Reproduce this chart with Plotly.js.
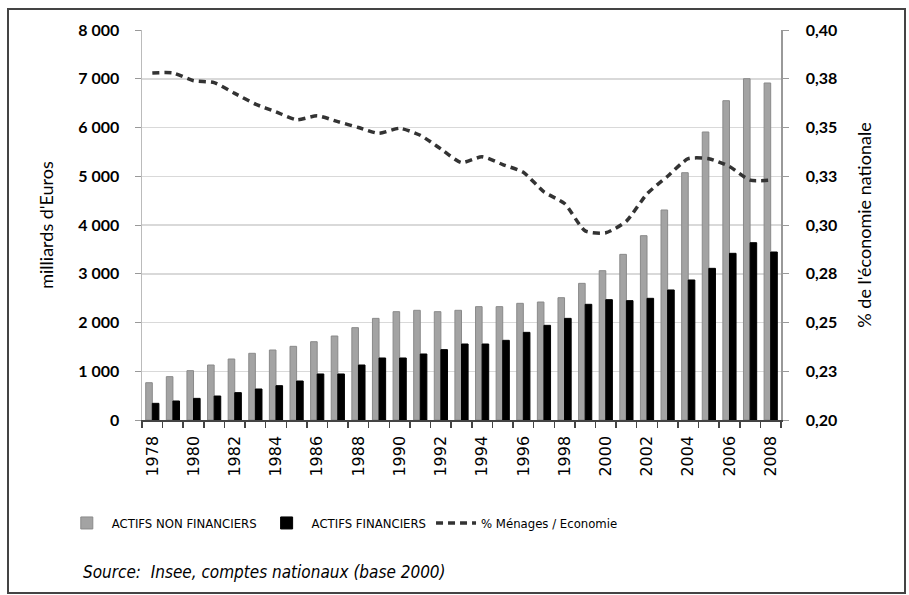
<!DOCTYPE html>
<html>
<head>
<meta charset="utf-8">
<script src="https://cdn.plot.ly/plotly-3.0.1.min.js"></script>
<style>
html,body{margin:0;padding:0;background:#fff;}
#wrap{position:relative;width:909px;height:595px;}
#chart{position:absolute;left:0;top:0;width:909px;height:595px;}
#frame{position:absolute;left:7px;top:8px;width:895px;height:582px;border:2px solid #444;pointer-events:none;}
</style>
</head>
<body>
<div id="wrap"><div id="chart"></div><div id="frame"></div></div>
<script>
const years = [1978,1979,1980,1981,1982,1983,1984,1985,1986,1987,1988,1989,1990,1991,1992,1993,1994,1995,1996,1997,1998,1999,2000,2001,2002,2003,2004,2005,2006,2007,2008];
const actifsNonFinanciers = [765,889,1012,1128,1251,1368,1436,1511,1606,1723,1894,2085,2222,2250,2222,2250,2325,2325,2393,2420,2509,2803,3063,3398,3781,4308,5073,5908,6550,7001,6913];
const actifsFinanciers = [342,390,444,492,561,636,704,800,944,944,1128,1272,1272,1354,1443,1559,1559,1634,1798,1942,2085,2373,2468,2448,2496,2667,2872,3111,3419,3637,3446];
const partMenages = [0.378,0.378,0.374,0.373,0.3675,0.362,0.358,0.354,0.356,0.353,0.350,0.347,0.3496,0.346,0.339,0.332,0.335,0.331,0.327,0.317,0.311,0.297,0.296,0.302,0.316,0.325,0.334,0.334,0.330,0.323,0.323];
const leftTicks = [0,1000,2000,3000,4000,5000,6000,7000,8000];
const rightTicks = [0.2,0.225,0.25,0.275,0.3,0.325,0.35,0.375,0.4];
const rightTickText = ['0,20','0,23','0,25','0,28','0,30','0,33','0,35','0,38','0,40'];
const labelYears = years.filter(y => y % 2 === 0);
const boundaries = [years[0]-0.5].concat(years.map(y => y+0.5));

const narrow = '"Liberation Sans Narrow", "DejaVu Sans Condensed", "Liberation Sans", sans-serif';
const bold = 'Lato, "Open Sans", sans-serif';

const traces = [
  {type:'bar', name:'ACTIFS NON FINANCIERS', x:years, y:actifsNonFinanciers,
   marker:{color:'#a3a3a3', line:{color:'#8a8a8a', width:1}}},
  {type:'bar', name:'ACTIFS FINANCIERS', x:years, y:actifsFinanciers,
   marker:{color:'#000000', line:{color:'#000', width:1}}},
  {type:'scatter', mode:'lines', name:'% Ménages / Economie', x:years, y:partMenages, yaxis:'y2',
   line:{color:'#333333', width:3.5, dash:'7px,5px', shape:'spline', smoothing:0.6}}
];

const layout = {
  width:909, height:595,
  margin:{l:142, r:128, t:30, b:175},
  paper_bgcolor:'#ffffff', plot_bgcolor:'#ffffff',
  barmode:'group', bargap:0.36, bargroupgap:0,
  separators:', ',
  showlegend:true,
  legend:{orientation:'h', xref:'container', yref:'container', x:0.068, xanchor:'left', y:0.121, yanchor:'middle',
    font:{family:narrow, size:13, color:'#000'}, itemwidth:40, traceorder:'normal', tracegroupgap:0},
  xaxis:{type:'linear', range:[1977.5,2008.5], tickmode:'array', tickvals:labelYears, ticktext:labelYears.map(String),
    ticks:'', tickangle:-90, showgrid:false, zeroline:false, automargin:false,
    showline:true, linecolor:'#444', linewidth:1.5,
    tickfont:{family:'"DejaVu Sans", sans-serif', size:16, color:'#000'},
    minor:{tickmode:'array', tickvals:boundaries, ticks:'outside', ticklen:6, tickcolor:'#444', tickwidth:1.5, showgrid:false},
    ticklabelstandoff:8},
  yaxis:{range:[0,8000], tickmode:'array', tickvals:leftTicks, tickformat:',d', automargin:false,
    ticks:'outside', ticklen:6, tickcolor:'#999', showgrid:true, gridcolor:'#d9d9d9', gridwidth:1.5,
    zeroline:false, showline:true, linecolor:'#bbbbbb', linewidth:1.5,
    tickfont:{family:bold, size:16, color:'#000', weight:'bold'}, ticklabelstandoff:12,
    title:{text:"milliards d'Euros", font:{family:bold, size:18, color:'#000'}, standoff:20}},
  yaxis2:{overlaying:'y', side:'right', range:[0.2,0.4], tickmode:'array', tickvals:rightTicks, ticktext:rightTickText,
    ticks:'outside', ticklen:6, tickcolor:'#999', showgrid:false, zeroline:false, automargin:false,
    showline:true, linecolor:'#999', linewidth:1.5,
    tickfont:{family:bold, size:16, color:'#000', weight:'bold'}, ticklabelstandoff:14,
    title:{text:"% de l'économie nationale", font:{family:bold, size:18, color:'#000'}, standoff:22}},
  annotations:[
    {xref:'paper', yref:'paper', x:-0.095, y:-0.39, xanchor:'left', yanchor:'middle', showarrow:false,
     text:'<i>Source:  Insee, comptes nationaux (base 2000)</i>', font:{family:narrow, size:17, color:'#000'}}
  ]
};

Plotly.newPlot('chart', traces, layout, {displayModeBar:false, staticPlot:true});
</script>
</body>
</html>
